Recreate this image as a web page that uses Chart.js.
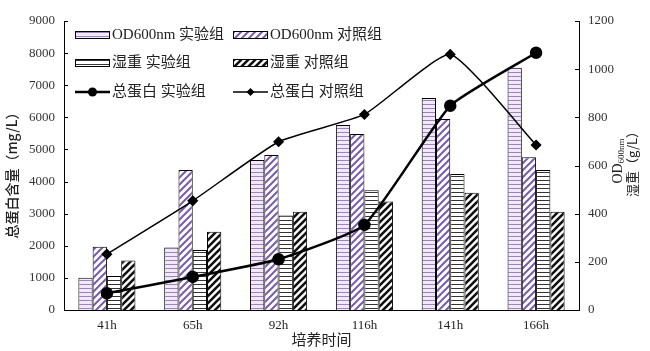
<!DOCTYPE html>
<html>
<head>
<meta charset="utf-8">
<script src="https://cdn.jsdelivr.net/npm/chart.js@4"></script>
<style>
  body { margin: 0; background: #fff; }
  #wrap { width: 650px; height: 351px; position: relative; }
</style>
</head>
<body>
<div id="wrap"><canvas id="chart"></canvas></div>
<script>
// 数据
const categories = ['41h', '65h', '92h', '116h', '141h', '166h'];
const odExp = [134, 259, 623, 768, 880, 1006];
const odCtrl = [263, 581, 644, 731, 793, 634];
const wetExp = [141, 249, 392, 497, 565, 581];
const wetCtrl = [206, 325, 408, 451, 487, 408];
const proteinExp = [520, 1030, 1580, 2650, 6360, 8010];
const proteinCtrl = [1740, 3400, 5240, 6090, 7960, 5140];
const leftTicks = [0, 1000, 2000, 3000, 4000, 5000, 6000, 7000, 8000, 9000];
const rightTicks = [0, 200, 400, 600, 800, 1000, 1200];

function hPattern(bg, fg, period) {
    const c = document.createElement('canvas');
    c.width = 4; c.height = period;
    const x = c.getContext('2d');
    x.fillStyle = bg; x.fillRect(0, 0, 4, period);
    x.fillStyle = fg; x.fillRect(0, 0, 4, 1);
    return x.createPattern(c, 'repeat');
}

function dPattern(fg, size, lw) {
    const c = document.createElement('canvas');
    c.width = size; c.height = size;
    const x = c.getContext('2d');
    x.fillStyle = '#fff'; x.fillRect(0, 0, size, size);
    x.strokeStyle = fg; x.lineWidth = lw;
    x.beginPath();
    x.moveTo(-1, 1); x.lineTo(1, -1);
    x.moveTo(0, size); x.lineTo(size, 0);
    x.moveTo(size - 1, size + 1); x.lineTo(size + 1, size - 1);
    x.stroke();
    return x.createPattern(c, 'repeat');
}

const serif = '"Liberation Serif", "Noto Sans CJK SC"';
const sans = '"Noto Sans CJK SC", sans-serif';

const barStyles = [
    { bg: hPattern('#f1e8f8', '#9d82c4', 4) },
    { bg: dPattern('#7a5cae', 7, 2) },
    { bg: hPattern('#ffffff', '#333333', 4) },
    { bg: dPattern('#111111', 7, 2.6) }
];

// 坐标轴标题、内刻度和图例
const decor = {
    id: 'decor',
    afterDraw(chart) {
        const ctx = chart.ctx;
        const area = chart.chartArea;
        const y = chart.scales.y, y1 = chart.scales.y1;
        ctx.save();
        ctx.strokeStyle = '#000';
        ctx.lineWidth = 1;
        ctx.beginPath();
        leftTicks.forEach(v => {
            const py = Math.round(y.getPixelForValue(v)) + 0.5;
            ctx.moveTo(area.left, py); ctx.lineTo(area.left + 4, py);
        });
        rightTicks.forEach(v => {
            const py = Math.round(y1.getPixelForValue(v)) + 0.5;
            ctx.moveTo(area.right, py); ctx.lineTo(area.right - 4, py);
        });
        ctx.stroke();

        ctx.fillStyle = '#222';
        // 左轴标题
        ctx.save();
        ctx.translate(12, 172);
        ctx.rotate(-Math.PI / 2);
        ctx.font = '500 14px ' + sans;
        ctx.textAlign = 'center';
        ctx.textBaseline = 'middle';
        ctx.fillText('总蛋白含量（mg/L）', 0, 0);
        ctx.restore();

        // 右轴标题
        ctx.save();
        ctx.translate(618, 161);
        ctx.rotate(-Math.PI / 2);
        ctx.textBaseline = 'middle';
        ctx.font = '14px ' + serif;
        const w1 = ctx.measureText('OD').width;
        ctx.font = '9px ' + serif;
        const w2 = ctx.measureText('600nm').width;
        let sx = -(w1 + w2) / 2;
        ctx.font = '14px ' + serif;
        ctx.fillText('OD', sx, 0);
        ctx.font = '9px ' + serif;
        ctx.fillText('600nm', sx + w1, 4);
        ctx.font = '13px ' + sans;
        ctx.textAlign = 'center';
        ctx.fillText('湿重（g/L）', 0, 14);
        ctx.restore();

        // x轴标题
        ctx.font = '15px ' + sans;
        ctx.textAlign = 'center';
        ctx.textBaseline = 'middle';
        ctx.fillText('培养时间', (area.left + area.right) / 2, 339);

        // 图例
        const ds = chart.data.datasets;
        const cols = [75, 233];
        const rows = [35, 63, 92];
        const order = [[2, 3], [4, 5], [0, 1]];
        ctx.textAlign = 'left';
        order.forEach((pair, r) => {
            pair.forEach((di, cIdx) => {
                const d = ds[di];
                const bx = cols[cIdx], cy = rows[r];
                if (d.type === 'line') {
                    ctx.strokeStyle = '#000';
                    ctx.lineWidth = d.borderWidth;
                    ctx.beginPath();
                    ctx.moveTo(bx, cy); ctx.lineTo(bx + 35, cy);
                    ctx.stroke();
                    ctx.fillStyle = '#000';
                    ctx.beginPath();
                    if (d.pointStyle === 'circle') {
                        ctx.arc(bx + 17.5, cy, 4.5, 0, Math.PI * 2);
                    } else {
                        ctx.moveTo(bx + 17.5, cy - 4); ctx.lineTo(bx + 21.5, cy);
                        ctx.lineTo(bx + 17.5, cy + 4); ctx.lineTo(bx + 13.5, cy);
                        ctx.closePath();
                    }
                    ctx.fill();
                } else {
                    ctx.fillStyle = d.backgroundColor;
                    ctx.fillRect(bx, cy - 3.5, 35, 7);
                    ctx.strokeStyle = '#000';
                    ctx.lineWidth = 1;
                    ctx.strokeRect(bx + 0.5, cy - 3.5, 34, 7);
                }
                ctx.fillStyle = '#222';
                ctx.font = '15px ' + serif;
                ctx.fillText(d.label, bx + 37, cy);
            });
        });
        ctx.restore();
    }
};

const plain = v => String(v);

new Chart(document.getElementById('chart').getContext('2d'), {
    type: 'bar',
    data: {
        labels: categories,
        datasets: [
            {
                type: 'line', label: '总蛋白 实验组', data: proteinExp, yAxisID: 'y',
                borderColor: '#000', borderWidth: 2.5, backgroundColor: '#000',
                pointStyle: 'circle', pointRadius: 5, pointBackgroundColor: '#000',
                tension: 0.15, order: 0
            },
            {
                type: 'line', label: '总蛋白 对照组', data: proteinCtrl, yAxisID: 'y',
                borderColor: '#000', borderWidth: 1.5, backgroundColor: '#000',
                pointStyle: 'rectRot', pointRadius: 4.5, pointBackgroundColor: '#000',
                tension: 0.15, order: 0
            },
            { label: 'OD600nm 实验组', data: odExp, yAxisID: 'y1', backgroundColor: barStyles[0].bg },
            { label: 'OD600nm 对照组', data: odCtrl, yAxisID: 'y1', backgroundColor: barStyles[1].bg },
            { label: '湿重 实验组', data: wetExp, yAxisID: 'y1', backgroundColor: barStyles[2].bg },
            { label: '湿重 对照组', data: wetCtrl, yAxisID: 'y1', backgroundColor: barStyles[3].bg }
        ].map(d => d.type === 'line' ? d : Object.assign(d, {
            borderColor: '#000', borderWidth: 1, categoryPercentage: 0.665, barPercentage: 1, order: 1
        }))
    },
    options: {
        responsive: true,
        maintainAspectRatio: false,
        animation: false,
        layout: { padding: { top: 21, left: 0, right: 0, bottom: 0 } },
        plugins: { legend: { display: false }, tooltip: { enabled: false } },
        scales: {
            x: {
                grid: { display: false, drawTicks: false },
                border: { display: true, color: '#000', width: 1 },
                ticks: { color: '#222', font: { family: serif, size: 13 }, padding: 8 },
                afterFit: s => { s.height = 41; }
            },
            y: {
                position: 'left', min: 0, max: 9000,
                grid: { display: false, drawTicks: false },
                border: { display: true, color: '#000', width: 1 },
                ticks: { stepSize: 1000, color: '#333', font: { family: serif, size: 13 }, padding: 9, callback: plain },
                afterFit: s => { s.width = 64; }
            },
            y1: {
                position: 'right', min: 0, max: 1200,
                grid: { display: false, drawTicks: false },
                border: { display: true, color: '#000', width: 1 },
                ticks: { stepSize: 200, color: '#333', font: { family: serif, size: 13 }, padding: 9, callback: plain },
                afterFit: s => { s.width = 71; }
            }
        }
    },
    plugins: [decor]
});
</script>
</body>
</html>
